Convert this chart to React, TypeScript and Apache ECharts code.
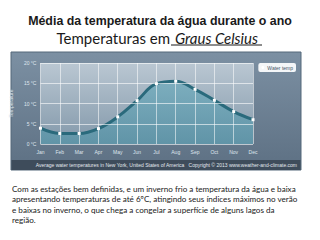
import React, { useEffect, useRef } from "react";
import * as echarts from "echarts";

const months = ["Jan", "Feb", "Mar", "Apr", "May", "Jun", "Jul", "Aug", "Sep", "Oct", "Nov", "Dec"];
const waterTemp = [3.9, 2.6, 2.6, 3.8, 6.7, 10.7, 14.9, 15.5, 13.5, 10.8, 8.0, 6.0];
const seriesName = "Water temp";
const title1 = "Média da temperatura da água durante o ano";
const title2a = "Temperaturas em";
const title2b = "Graus Celsius";
const footer = "Average water temperatures in New York, United States of America   Copyright © 2013 www.weather-and-climate.com";
const paragraph = [
  "Com as estações bem definidas, e um inverno frio a temperatura da água e baixa",
  "apresentando temperaturas de até 6ºC, atingindo seus índices máximos no verão",
  "e baixas no inverno, o que chega a congelar a superfície de alguns lagos da",
  "região.",
];

export default function App() {
  const ref = useRef<HTMLDivElement>(null);
  useEffect(() => {
    document.body.style.margin = "0";
    const chart = echarts.init(ref.current!, null, { renderer: "svg" });
    const lg = (a: string, b: string) =>
      new echarts.graphic.LinearGradient(0, 0, 0, 1, [
        { offset: 0, color: a },
        { offset: 1, color: b },
      ]);
    chart.setOption({
      animation: false,
      backgroundColor: "#ffffff",
      grid: {
        left: 40,
        right: 67,
        top: 63,
        bottom: 96,
        show: true,
        borderWidth: 0,
        backgroundColor: lg("#bac7d2", "#8298aa"),
        z: 1,
      },
      legend: {
        right: 24,
        top: 63,
        data: [seriesName],
        backgroundColor: "#f4f6f8",
        borderRadius: 2,
        padding: [2, 3, 2, 3],
        itemWidth: 3,
        itemHeight: 3,
        itemGap: 2,
        icon: "circle",
        textStyle: { fontSize: 5, color: "#445566", fontFamily: "Liberation Sans", padding: [0, 0, 0, -2] },
      },
      xAxis: {
        type: "category",
        data: months,
        boundaryGap: false,
        axisLine: { show: false },
        axisTick: { show: false },
        axisLabel: { fontSize: 5, color: "#dfe6ee", margin: 5, fontFamily: "Liberation Sans" },
        splitLine: { show: true, lineStyle: { color: "rgba(255,255,255,0.55)", width: 1 } },
        z: 3,
      },
      yAxis: {
        type: "value",
        min: 0,
        max: 20,
        interval: 5,
        name: "Temperature",
        nameLocation: "middle",
        nameGap: 20,
        nameTextStyle: { fontSize: 5, color: "#d8e0e8", fontFamily: "Liberation Sans" },
        axisLine: { show: false },
        axisTick: { show: false },
        axisLabel: { fontSize: 5, color: "#dfe6ee", margin: 4, formatter: "{value} °C", fontFamily: "Liberation Sans" },
        splitLine: { show: true, lineStyle: { color: "rgba(255,255,255,0.6)", width: 1 } },
        z: 3,
      },
      series: [
        {
          name: seriesName,
          type: "line",
          data: waterTemp,
          smooth: 0.4,
          symbol: "rect",
          symbolSize: 3,
          showAllSymbol: true,
          itemStyle: { color: "#ffffff", borderWidth: 0 },
          lineStyle: { color: "#2a6a7c", width: 3 },
          areaStyle: { color: lg("rgba(98,166,184,0.92)", "rgba(78,146,166,0.92)"), origin: "start" },
          z: 2,
        },
      ],
      color: ["#1f6a82"],
      graphic: [
        {
          type: "rect",
          z: -10,
          shape: { x: 11, y: 52, width: 290, height: 118 },
          style: { fill: lg("#7c90a3", "#5d7083"), stroke: "#55687a", lineWidth: 1 },
        },
        {
          type: "rect",
          z: -9,
          shape: { x: 11.5, y: 160, width: 289, height: 10 },
          style: { fill: "#3e4c5b" },
        },
        {
          type: "text",
          z: 5,
          x: 297,
          y: 165,
          style: {
            text: footer,
            fontSize: 5,
            fill: "#e3e9ef",
            align: "right",
            verticalAlign: "middle",
            fontFamily: "Liberation Sans",
          },
        },
        {
          type: "text",
          x: 160,
          y: 21,
          style: {
            text: title1,
            fontSize: 12.4,
            fontWeight: "bold",
            fill: "#1a1a1a",
            align: "center",
            verticalAlign: "middle",
            fontFamily: "Liberation Sans",
          },
        },
        {
          type: "text",
          x: 170,
          y: 38,
          style: {
            text: title2a,
            fontSize: 15,
            fill: "#1a1a1a",
            align: "right",
            verticalAlign: "middle",
            fontFamily: "Lato",
          },
        },
        {
          type: "text",
          x: 175,
          y: 38,
          style: {
            text: title2b,
            fontSize: 15,
            fontStyle: "italic",
            fill: "#1a1a1a",
            align: "left",
            verticalAlign: "middle",
            fontFamily: "Lato",
          },
        },
        {
          type: "line",
          shape: { x1: 171, y1: 45, x2: 262, y2: 45 },
          style: { stroke: "#1a1a1a", lineWidth: 1 },
        },
        {
          type: "text",
          x: 12,
          y: 183.5,
          style: {
            text: paragraph.join("\n"),
            fontSize: 8.1,
            lineHeight: 10.4,
            fill: "#1a1a1a",
            align: "left",
            verticalAlign: "top",
            fontFamily: "Lato",
          },
        },
      ],
    });
    return () => chart.dispose();
  }, []);
  return <div ref={ref} style={{ width: 320, height: 240 }} />;
}
